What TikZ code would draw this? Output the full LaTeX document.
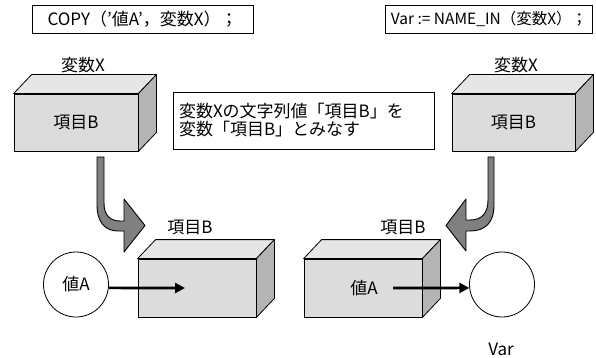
\documentclass[tikz,border=0pt]{standalone}
\usepackage{fontspec}
\setmainfont{Noto Sans CJK JP}
\usetikzlibrary{arrows.meta,calc}
\definecolor{frontgray}{HTML}{DCDCDC}
\definecolor{topgray}{HTML}{E6E6E6}
\definecolor{sidegray}{HTML}{B4B4B4}
\definecolor{arrowgray}{HTML}{808080}
\newcommand\boxfaces[1]{%
  \draw[topface] (#1.north west) -- ++(18,-19) -- ($(#1.north east)+(18,-19)$) -- (#1.north east) -- cycle;
  \draw[sideface] (#1.north east) -- ++(18,-19) -- ($(#1.south east)+(18,-19)$) -- (#1.south east) -- cycle;}
\begin{document}
\begin{tikzpicture}[x=1pt,y=-1pt,
  every node/.style={font=\fontsize{17}{18}\selectfont},
  line width=0.8pt,
  framebox/.style={draw, fill=white, inner sep=0pt},
  frontface/.style={draw, fill=frontgray, inner sep=0pt, minimum height=57pt},
  topface/.style={draw, fill=topgray, line join=round},
  sideface/.style={draw, fill=sidegray, line join=round},
  valcircle/.style={draw, circle, inner sep=0pt, minimum size=65pt},
  bendarrow/.style={draw, fill=arrowgray, line width=0.9pt, line join=round},
  flow/.style={line width=2.6pt, -{Triangle[length=10pt,width=10pt]}}]
\useasboundingbox (0,0) rectangle (596,358);

% code boxes
\node[framebox, minimum width=221pt, minimum height=28pt] (code1) at (142.5,19) {COPY（’値A’，変数X）；};
\node[framebox, minimum width=207pt, minimum height=28pt, font=\fontsize{15.5}{18}\selectfont] (code2) at (489,19) {Var := NAME\_IN（変数X）；};

% explanation box
\node[framebox, minimum width=261pt, minimum height=57pt, align=left, text width=249pt] (expl) at (303.5,120.5)
  {変数Xの文字列値「項目B」を\\変数「項目B」とみなす};

% top-left box
\node[frontface, minimum width=124pt] (tl) at (76,122.5) {項目B};
\boxfaces{tl}
\node (tllab) at (83,65) {変数X};

% top-right box
\node[frontface, minimum width=123pt] (tr) at (513.5,122.5) {項目B};
\boxfaces{tr}
\node (trlab) at (516,65) {変数X};

% bottom-left box
\node[frontface, minimum width=118pt, minimum height=58pt] (bl) at (197,288) {};
\boxfaces{bl}
\node (bllab) at (190,227) {項目B};
\node[valcircle] (cA) at (76,284.5) {値A};
\coordinate (blend) at (185,288);
\draw[flow] (cA.-6) -- (blend);

% bottom-right box
\node[frontface, minimum width=118pt, minimum height=58pt] (br) at (363,288) {};
\boxfaces{br}
\node (brlab) at (403,227) {項目B};
\node (brval) at (364,288) {値A};
\coordinate (brstart) at (393,288);
\node[valcircle] (cV) at (502,284.5) {};
\node (vlab) at (501,349) {Var};
\draw[flow] (brstart) -- (cV.186);

% bent arrows
\draw[bendarrow] (97,157) -- (104,157) -- (104,203) .. controls (104,215) and (110,221) .. (120,221)
  -- (124,221) -- (124,199) -- (145,225.5) -- (124,252) -- (124,231) -- (118,231)
  .. controls (105,231) and (97,222) .. (97,205) -- cycle;
\draw[bendarrow] (488,157) -- (494,157) -- (494,205) .. controls (494,223) and (485,231) .. (470,231)
  -- (466,231) -- (466,251) -- (446,225.5) -- (466,199) -- (466,220) -- (470,220)
  .. controls (482,220) and (488,213) .. (488,200) -- cycle;
\end{tikzpicture}
\end{document}
